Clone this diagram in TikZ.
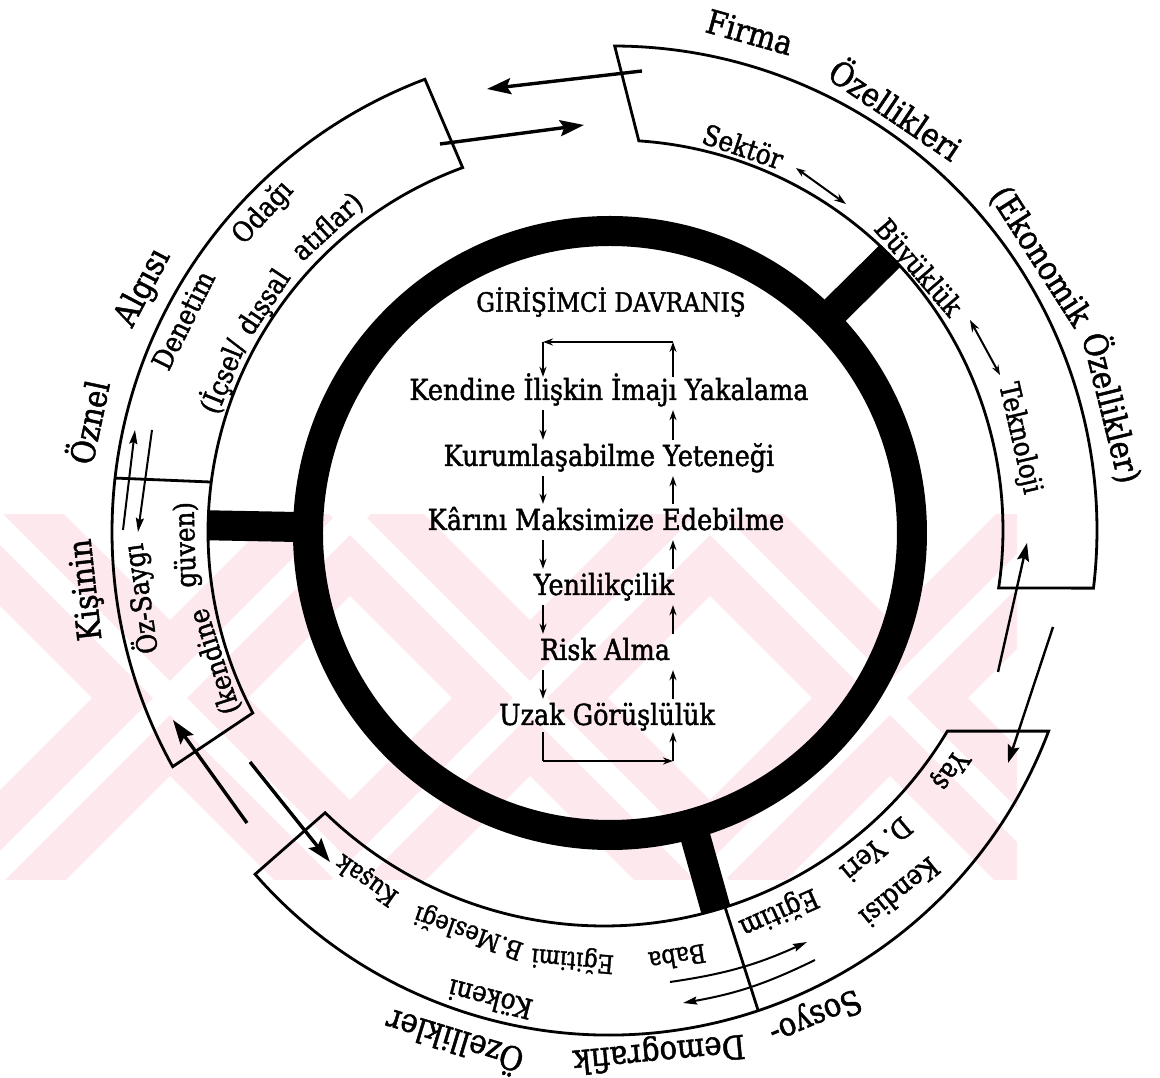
\documentclass[tikz,border=0pt]{standalone}
\usepackage{fontspec}
\setmainfont{DejaVu Serif}[FakeBold=1.5, FakeStretch=0.88]
\usetikzlibrary{arrows.meta}

\tikzset{
  boxline/.style={line width=2.8pt, line join=miter},
  spoke/.style={line width=30pt},
  wm/.style={color={rgb,255:red,252;green,232;blue,237}},
  bigarrow/.style={line width=3.4pt, -{Stealth[length=24pt,width=16pt,inset=4pt]}},
  midarrow/.style={line width=2.4pt, -{Stealth[length=18pt,width=12pt,inset=3pt]}},
  thinarrow/.style={line width=2pt, -{Stealth[length=14pt,width=8pt,inset=2pt]}},
  dblarrow/.style={line width=2pt, {Stealth[length=10pt,width=7pt]}-{Stealth[length=12pt,width=8pt]}},
  smallarrow/.style={line width=1.8pt, -{Stealth[length=10pt,width=7pt]}},
  stage/.style={font=\fontsize{29}{33}\selectfont, text height=21pt, text depth=5pt, inner sep=2pt},
  outlabel/.style={font=\fontsize{33}{37}\selectfont},
  inlabel/.style={font=\fontsize{28}{32}\selectfont},
  rowlabel/.style={font=\fontsize{25.5}{29}\selectfont},
}

\begin{document}
\begin{tikzpicture}[x=1pt, y=1pt]
    \useasboundingbox (-610,-545) rectangle (550,533);
    % watermark
    \begin{scope}
        \clip (-610,18) rectangle (407,-347);
        \draw[wm, line width=110pt] (-640,35) -- (-240,-365);
        \draw[wm, line width=110pt] (-240,35) -- (-640,-365);
        \draw[wm, line width=110pt] (-280,35) -- (120,-365);
        \draw[wm, line width=110pt] (120,35) -- (-280,-365);
        \draw[wm, line width=110pt] (80,35) -- (480,-365);
        \draw[wm, line width=110pt] (480,35) -- (80,-365);
        \draw[white, line width=24pt] (-640,35) -- (-240,-365);
        \draw[white, line width=24pt] (-240,35) -- (-640,-365);
        \draw[white, line width=24pt] (-280,35) -- (120,-365);
        \draw[white, line width=24pt] (120,35) -- (-280,-365);
        \draw[white, line width=24pt] (80,35) -- (480,-365);
        \draw[white, line width=24pt] (480,35) -- (80,-365);
    \end{scope}

    % inner ring and spokes
    \draw[line width=30pt] (0,0) circle (302);
    \draw[spoke] (178.9:305) -- (178.9:402);
    \draw[spoke] (44.7:305) -- (44.7:394);
    \draw[spoke] (-74.3:305) -- (-74.3:392);

    % outer boxes
    \draw[boxline, shift={(-14,1)}] (110.7:484) arc[start angle=110.7, end angle=209, radius=484]
        -- (207.8:388) arc[start angle=207.8, end angle=110.1, radius=388] -- cycle;
    \draw[boxline, shift={(-14,1)}] (173.6:484) -- (172.6:388);
    \draw[boxline, shift={(3,3)}] (89.8:484) arc[start angle=89.8, end angle=-6.9, radius=484]
        -- (-8.55:390) arc[start angle=-8.55, end angle=86.2, radius=390] -- cycle;
    \draw[boxline] ([shift={(-1,-32)}]-20.7:470) arc[start angle=-20.7, end angle=-138.85, radius=470]
        -- ([shift={(-6,7)}]-134.2:400) arc[start angle=-134.2, end angle=-30.85, radius=400] -- cycle;
    \draw[boxline] (115,-374) -- (148,-477);

    % centre
    \node[font=\fontsize{26.5}{30}\selectfont] (title) at (1,231) {GİRİŞİMCİ DAVRANIŞ};
    \node[stage] (k1) at (-1,141) {Kendine İlişkin İmajı Yakalama};
    \node[stage] (k2) at (-1,75) {Kurumlaşabilme Yeteneği};
    \node[stage] (k3) at (-4,11) {Kârını Maksimize Edebilme};
    \node[stage] (k4) at (-6,-54) {Yenilikçilik};
    \node[stage] (k5) at (-5,-119) {Risk Alma};
    \node[stage] (k6) at (-3,-184) {Uzak Görüşlülük};
    \coordinate (tl) at (-67,191);
    \coordinate (tr) at (63,191);
    \coordinate (bl) at (-67,-228);
    \coordinate (br) at (63,-228);
    \draw[smallarrow] (k1.north -| tr) -- (tr);
    \draw[smallarrow] (tr) -- (tl);
    \draw[smallarrow] (tl) -- (k1.north -| tl);
    \draw[smallarrow, shorten <=3pt, shorten >=3pt] (k1.south -| tl) -- (k2.north -| tl);
    \draw[smallarrow, shorten <=3pt, shorten >=3pt] (k2.south -| tl) -- (k3.north -| tl);
    \draw[smallarrow, shorten <=3pt, shorten >=3pt] (k3.south -| tl) -- (k4.north -| tl);
    \draw[smallarrow, shorten <=3pt, shorten >=3pt] (k4.south -| tl) -- (k5.north -| tl);
    \draw[smallarrow, shorten <=3pt, shorten >=3pt] (k5.south -| tl) -- (k6.north -| tl);
    \draw[smallarrow, shorten <=3pt, shorten >=3pt] (k6.north -| tr) -- (k5.south -| tr);
    \draw[smallarrow, shorten <=3pt, shorten >=3pt] (k5.north -| tr) -- (k4.south -| tr);
    \draw[smallarrow, shorten <=3pt, shorten >=3pt] (k4.north -| tr) -- (k3.south -| tr);
    \draw[smallarrow, shorten <=3pt, shorten >=3pt] (k3.north -| tr) -- (k2.south -| tr);
    \draw[smallarrow, shorten <=3pt, shorten >=3pt] (k2.north -| tr) -- (k1.south -| tr);
    \draw[line width=1.8pt] (k6.south -| bl) -- (bl);
    \draw[smallarrow] (bl) -- (br);
    \draw[smallarrow] (br) -- (k6.south -| br);

    % Firma box texts
    \node[outlabel, rotate=-15.6] (firma) at (74.4:520) {Firma};
    \node[outlabel, rotate=-34] (ozelA) at (56:513) {Özellikleri};
    \node[outlabel, rotate=-57.3] (ekon) at (32.7:511) {(Ekonomik};
    \node[outlabel, rotate=-76] (ozelB) at (14:518) {Özellikler)};
    \node[inlabel, rotate=-19] (sektor) at (71:409) {Sektör};
    \node[inlabel, rotate=-49.3] (buyuk) at (40.7:405) {Büyüklük};
    \node[inlabel, rotate=-77] (tekno) at (13:420) {Teknoloji};

    % left box texts
    \node[outlabel, rotate=78] (oznel) at (168:535) {Öznel};
    \node[outlabel, rotate=62.3] (algisi) at (152.3:527) {Algısı};
    \node[outlabel, rotate=96.2] (kisinin) at (186.2:526) {Kişinin};
    \node[inlabel, rotate=63.5] (denetim) at (153.5:477) {Denetim};
    \node[inlabel, rotate=47.3] (odagi) at (137.3:472) {Odağı};
    \node[inlabel, rotate=68] (icsel) at (158:418) {(İçsel/};
    \node[inlabel, rotate=56.3] (dissal) at (146.3:415) {dışsal};
    \node[inlabel, rotate=42.7] (atif) at (132.7:416) {atıflar)};
    \node[inlabel, rotate=98] (ozsaygi) at (188:474) {Öz-Saygı};
    \node[inlabel, rotate=108] (kendine) at (198:415) {(kendine};
    \node[inlabel, rotate=91.6] (guven) at (181.6:423) {güven)};

    % Sosyo box texts
    \node[inlabel, rotate=-124.9] (yas) at (-34.9:414) {Yaş};
    \node[inlabel, rotate=-139.9] (dyeri) at (-49.9:414) {D. Yeri};
    \node[inlabel, rotate=-141.1] (kendisi) at (-51.1:462) {Kendisi};
    \node[inlabel, rotate=-156] (egitim) at (-66:415) {Eğitim};
    \node[rowlabel, rotate=-171] (baba) at (-81:430) {Baba};
    \node[rowlabel, rotate=-185] (egitimi) at (-95:428) {Eğitimi};
    \node[rowlabel, rotate=-199.5] (meslek) at (-109.5:423) {B.Mesleği};
    \node[rowlabel, rotate=-215] (kusak) at (-125:423) {Kuşak};
    \node[inlabel, rotate=-194.4] (koken) at (-104.4:482) {Kökeni};
    \node[outlabel, rotate=-157] (sosyo) at (-67:524) {Sosyo-};
    \node[outlabel, rotate=-174.6] (demog) at (-84.6:521) {Demografik};
    \node[outlabel, rotate=-197] (ozelC) at (-107:534) {Özellikler};

    % arrows between the boxes
    \coordinate (firmaOut) at (32,462);
    \coordinate (leftIn) at (-123,444);
    \coordinate (leftOut) at (-170,389);
    \coordinate (firmaIn) at (-26,408);
    \draw[bigarrow] (firmaOut) -- (leftIn);
    \draw[bigarrow] (leftOut) -- (firmaIn);
    \coordinate (ozUp1) at (-487,3);
    \coordinate (ozUp2) at (-475,103);
    \coordinate (ozDn1) at (-458,103);
    \coordinate (ozDn2) at (-472,1);
    \draw[thinarrow] (ozUp1) -- (ozUp2);
    \draw[thinarrow] (ozDn1) -- (ozDn2);
    \coordinate (sosyoOut) at (-363,-290);
    \coordinate (ozIn) at (-437,-187);
    \coordinate (ozOut) at (-360,-229);
    \coordinate (sosyoIn) at (-280,-329);
    \draw[bigarrow] (sosyoOut) -- (ozIn);
    \draw[bigarrow] (ozOut) -- (sosyoIn);
    \coordinate (sosyoUp) at (388,-139);
    \coordinate (firmaBot) at (417,-10);
    \coordinate (firmaDn) at (443,-94);
    \coordinate (sosyoTop) at (398,-230);
    \draw[midarrow] (sosyoUp) -- (firmaBot);
    \draw[midarrow] (firmaDn) -- (sosyoTop);
    \coordinate (babaR1) at (60,-449);
    \coordinate (babaR2) at (197,-409);
    \coordinate (babaL1) at (205,-427);
    \coordinate (babaL2) at (73,-470);
    \draw[thinarrow] (babaR1) to[bend right=8] (babaR2);
    \draw[thinarrow] (babaL1) to[bend left=8] (babaL2);
    \coordinate (sekA) at (186,365);
    \coordinate (sekB) at (236,329);
    \coordinate (tekA) at (360,213);
    \coordinate (tekB) at (390,158);
    \draw[dblarrow] (sekA) -- (sekB);
    \draw[dblarrow] (tekB) -- (tekA);
\end{tikzpicture}
\end{document}
